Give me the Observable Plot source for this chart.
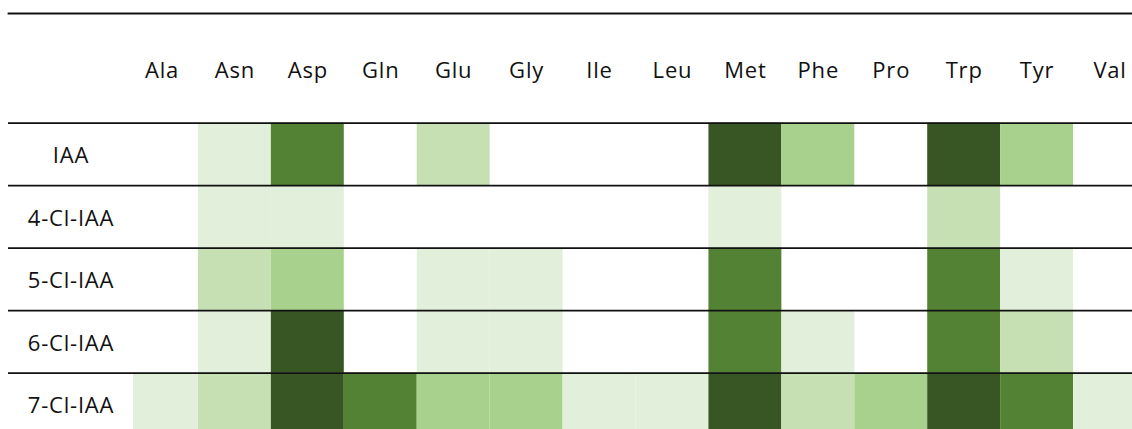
<!DOCTYPE html>
<html>
<head>
<meta charset="utf-8">
<script src="https://cdn.jsdelivr.net/npm/d3@7"></script>
<script src="https://cdn.jsdelivr.net/npm/@observablehq/plot@0.6"></script>
<style>
  html, body { margin: 0; padding: 0; background: #fff; }
  #chart svg { display: block; }
</style>
</head>
<body>
<div id="chart"></div>
<script>
const columns = ["Ala", "Asn", "Asp", "Gln", "Glu", "Gly", "Ile", "Leu", "Met", "Phe", "Pro", "Trp", "Tyr", "Val"];
const rowLabels = ["IAA", "4-Cl-IAA", "5-Cl-IAA", "6-Cl-IAA", "7-Cl-IAA"];
// intensity level 0 (none) … 5 (strongest)
const levelsIAA   = [0, 1, 4, 0, 2, 0, 0, 0, 5, 3, 0, 5, 3, 0];
const levels4Cl   = [0, 1, 1, 0, 0, 0, 0, 0, 1, 0, 0, 2, 0, 0];
const levels5Cl   = [0, 2, 3, 0, 1, 1, 0, 0, 4, 0, 0, 4, 1, 0];
const levels6Cl   = [0, 1, 5, 0, 1, 1, 0, 0, 4, 1, 0, 4, 2, 0];
const levels7Cl   = [1, 2, 5, 4, 3, 3, 1, 1, 5, 2, 3, 5, 4, 1];
const levelColors = ["#ffffff", "#e2efda", "#c6e0b4", "#a9d18e", "#548235", "#375623"];

const series = [levelsIAA, levels4Cl, levels5Cl, levels6Cl, levels7Cl];
const table = rowLabels.flatMap((row, i) =>
  columns.map((col, j) => ({row, i, col, v: series[i][j]}))
);
const filled = table.filter(d => d.v > 0);
const rowIdx = rowLabels.map((r, i) => ({row: r, i}));

const font = "'Open Sans', 'Noto Sans', sans-serif";

const chart = Plot.plot({
  width: 1132,
  height: 429,
  marginTop: 13,
  marginLeft: 8,
  marginRight: 0,
  marginBottom: 0,
  style: {fontFamily: font, background: "#fff", letterSpacing: "0.8px"},
  x: {type: "band", domain: columns, range: [125, 1146], padding: 0, round: false, axis: null},
  y: {type: "linear", domain: [0, 5], range: [122.7, 435.2], axis: null},
  color: {type: "ordinal", domain: [0, 1, 2, 3, 4, 5], range: levelColors},
  marks: [
    Plot.barY(filled.filter(d => d.col !== columns[0]), {
      x: "col", y1: "i", y2: d => d.i + 1, fill: "v", inset: 0
    }),
    Plot.barY(filled.filter(d => d.col === columns[0]), {
      x: "col", y1: "i", y2: d => d.i + 1, fill: "v", inset: 0, insetLeft: 8
    }),
    Plot.ruleY(rowIdx, {y: "i", stroke: "#111", strokeWidth: 1.8}),
    Plot.frame({anchor: "top", stroke: "#111", strokeWidth: 1.8}),
    Plot.text(columns, {
      x: d => d, frameAnchor: "top", dy: 57, lineAnchor: "middle",
      text: d => d, fontSize: 22, fill: "#111"
    }),
    Plot.text(rowIdx, {
      y: d => d.i + 0.5, frameAnchor: "left", dx: 62.5, dy: 2, textAnchor: "middle",
      lineAnchor: "middle", text: "row", fontSize: 22, fill: "#111"
    })
  ]
});
document.getElementById("chart").appendChild(chart);
</script>
</body>
</html>
